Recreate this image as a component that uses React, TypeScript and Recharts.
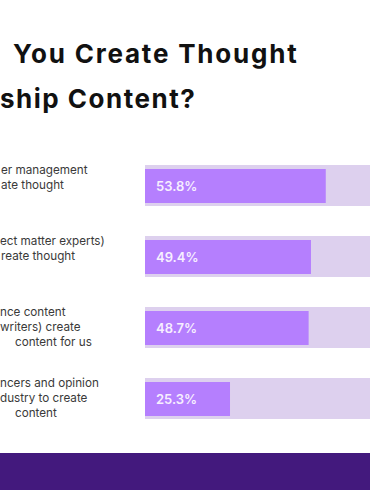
import React from 'react';
import { BarChart, Bar, XAxis, YAxis, LabelList } from 'recharts';

// The reference is a crop of a wider graphic, so only the visible parts of the text are kept.
const titleLines = ['You Create Thought', 'ship Content?'];

const categoryLines = [
  ['er management', 'ate thought'],
  ['ect matter experts)', 'reate thought'],
  ['nce content', 'writers) create', 'content for us'],
  ['ncers and opinion', 'dustry to create', 'content'],
];

const shares = [53.8, 49.4, 48.7, 25.3];
const scaleMax = 100;

// x where each cut-off label line starts
const lineIndent = [
  [1, 1],
  [0, 1],
  [0, 0, 15],
  [0, 0, 15],
];

const data = categoryLines.map((lines, i) => ({
  name: lines.join(' '),
  value: shares[i],
  full: scaleMax,
}));

const W = 370;
const H = 490;
const PLOT_LEFT = 145;
const PLOT_W = 336;
const PLOT_TOP = 150;
const ROW_H = 71;
const TRACK_H = 41;
const FONT = 'Inter, "Noto Sans", sans-serif';

const App: React.FC = () => {
  const plotH = ROW_H * data.length;

  return (
    <div style={{ position: 'fixed', left: 0, top: 0, width: W, height: H, overflow: 'hidden', background: '#fff' }}>
      <svg width={W} height={H} style={{ position: 'absolute', left: 0, top: 0 }}>
        <text x={13} y={63} fontFamily={FONT} fontSize={26} fontWeight={700} letterSpacing={1.8} fill="#111">
          {titleLines[0]}
        </text>
        <text x={0} y={108} fontFamily={FONT} fontSize={26} fontWeight={700} letterSpacing={1.5} fill="#111">
          {titleLines[1]}
        </text>
        {categoryLines.map((lines, r) =>
          lines.map((line, j) => (
            <text
              key={`${r}-${j}`}
              x={lineIndent[r][j]}
              y={PLOT_TOP + r * ROW_H + (ROW_H - TRACK_H) / 2 + 8.5 + j * 15}
              fontFamily={FONT}
              fontSize={11.7}
              fill="#3a3a3a"
            >
              {line}
            </text>
          ))
        )}
      </svg>

      <div style={{ position: 'absolute', left: 0, top: 0 }}>
        <BarChart
          layout="vertical"
          data={data}
          width={PLOT_LEFT + PLOT_W}
          height={PLOT_TOP + plotH + 10}
          margin={{ top: PLOT_TOP, right: 0, bottom: 10, left: PLOT_LEFT }}
        >
          <XAxis type="number" domain={[0, scaleMax]} hide />
          <YAxis yAxisId="track" type="category" dataKey="name" hide />
          <YAxis yAxisId="value" type="category" dataKey="name" hide />
          <Bar yAxisId="track" dataKey="full" fill="#ddd0ee" barSize={TRACK_H} isAnimationActive={false} />
          <Bar yAxisId="value" dataKey="value" fill="#b57ffe" barSize={34} isAnimationActive={false}>
            <LabelList
              dataKey="value"
              position="insideLeft"
              offset={11}
              formatter={(v: any) => `${v}%`}
              fill="#f7efff"
              fontSize={13}
              fontWeight={600}
              fontFamily={FONT}
            />
          </Bar>
        </BarChart>
      </div>

      <div style={{ position: 'absolute', left: 0, top: 453, width: W, height: H - 453, background: '#43197d' }} />
    </div>
  );
};

export default App;
